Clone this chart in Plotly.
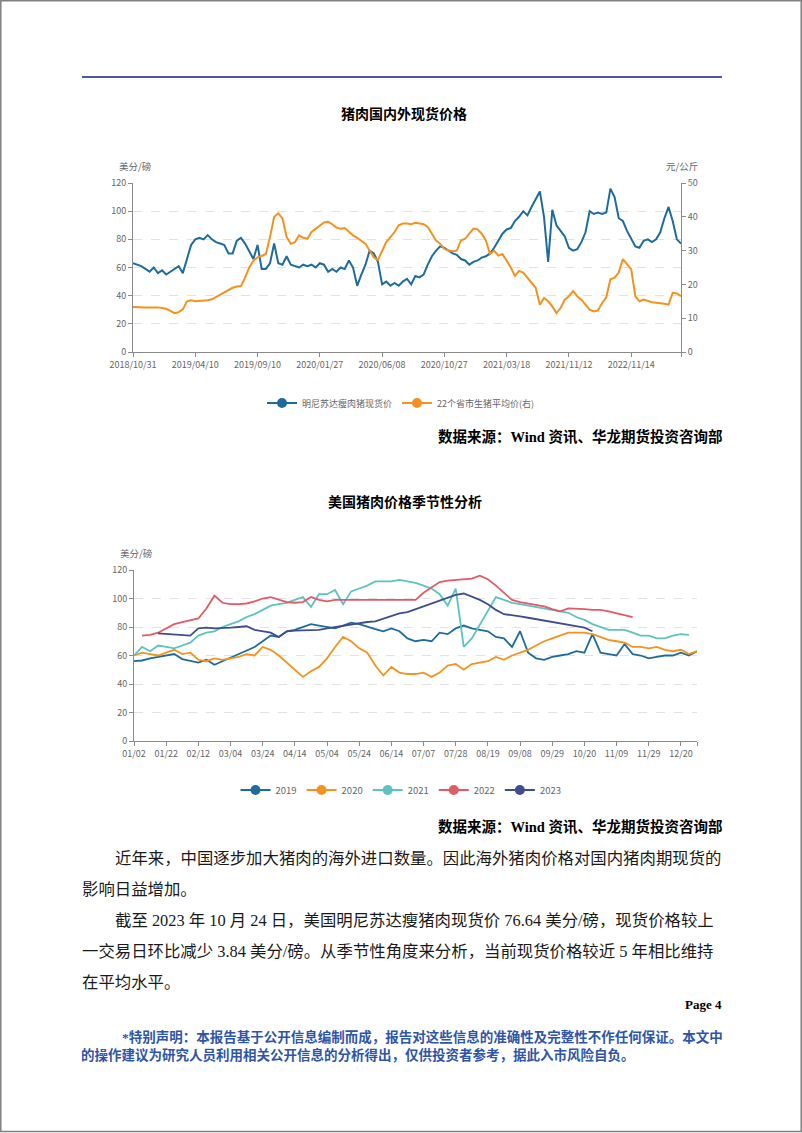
import plotly.graph_objects as go

W, H = 802, 1133


def px(x):
    return x / W


def py(y):
    return 1 - y / H


# ---------------- Chart 1 data: 猪肉国内外现货价格 ----------------
c1_ticklabels = ["2018/10/31", "2019/04/10", "2019/09/10", "2020/01/27", "2020/06/08",
                 "2020/10/27", "2021/03/18", "2021/11/12", "2022/11/14"]
c1_tick_every = 15
c1_names = ["明尼苏达瘦肉猪现货价", "22个省市生猪平均价(右)"]

minn_price = [
    63, 62, 61, 59, 57, 60, 56, 58, 55, 57,
    59, 61, 56, 66, 76, 80, 81, 80, 83, 80,
    78, 77, 76, 70, 70, 79, 81, 77, 72, 66,
    76, 59, 59, 63, 77, 63, 62, 68, 62, 61,
    60, 62, 61, 62, 60, 63, 62, 57, 59, 57,
    60, 59, 65, 60, 47, 55, 62, 72, 70, 64,
    48, 50, 47, 49, 47, 50, 52, 48, 54, 53,
    55, 62, 68, 72, 75, 74, 72, 70, 69, 66,
    65, 62, 64, 65, 67, 68, 70, 74, 79, 84,
    87, 88, 93, 96, 100, 97, 103, 108, 114, 96,
    64, 101, 90, 86, 82, 74, 72, 73, 78, 85,
    100, 98, 99, 98, 99, 116, 110, 95, 93, 86,
    80, 75, 74, 79, 80, 78, 80, 85, 95, 103,
    93, 80, 77,
]

china_price = [
    13.3, 13.2, 13.1, 13.2, 13.2, 13.3, 13.2, 13.0, 12.8, 12.2,
    11.5, 11.8, 12.6, 15.0, 15.3, 15.0, 15.1, 15.0, 15.3, 15.6,
    16.3, 16.8, 17.7, 18.2, 19.0, 19.4, 19.5, 22, 25, 27,
    28, 28.4, 29, 34, 40, 41, 39.5, 34, 32, 32.5,
    34.5, 33.8, 33.5, 35.5, 36.5, 37.5, 38.3, 38.5, 37.8, 36.8,
    36.5, 36.7, 35.5, 34.5, 33.8, 33.0, 32, 30, 28, 27.2,
    30, 32.5, 34, 35.5, 37.5, 38, 38, 37.8, 38.2, 38,
    37.8, 37, 35, 33, 32, 30.5, 30, 29.8, 30, 33,
    33.5, 35, 36.5, 36.3, 35, 33, 29, 30, 28.5, 29,
    27, 25, 22.5, 24, 23.5, 22, 20.5, 19, 14, 16,
    15, 13.5, 11.5, 13, 15.5, 16.5, 18, 16.5, 15.5, 14,
    12.5, 12, 12.3, 14.5, 16.2, 21.5, 22, 23.5, 27.5, 26,
    24.5, 16.5, 15, 15.5, 15, 14.7, 14.6, 14.5, 14.3, 14,
    17.5, 17.3, 16.5,
]

# ---------------- Chart 2 data: 美国猪肉价格季节性分析 ----------------
c2_ticklabels = ["01/02", "01/22", "02/12", "03/04", "03/24", "04/14", "05/04", "05/24", "06/14",
                 "07/07", "07/28", "08/19", "09/08", "09/29", "10/20", "11/09", "11/29", "12/20"]
c2_tick_every = 4
years = ["2019", "2020", "2021", "2022", "2023"]

s2019 = [
    56, 56.5, 58, 59, 59.5, 61, 57.5, 56, 55, 57,
    53.5, 56, 58.5, 61, 63, 66, 70, 74, 73, 77,
    78, 80, 82, 81, 80, 79, 81, 83, 82, 80,
    78.5, 77, 79, 77, 72, 70, 71, 70, 76, 75,
    79, 81, 79, 78, 77, 73, 72, 66, 77, 62,
    58, 57, 59, 60, 61, 63, 62, 75, 62, 61,
    60, 68, 61, 60, 58, 59, 60, 60, 62, 60,
    63,
]
s2020 = [
    60, 62, 61, 60, 62, 64, 61, 62, 57, 56,
    58, 57, 58, 59, 61, 60, 66, 64, 60, 55,
    50, 45, 49, 52, 58, 66, 73, 70, 65, 62,
    53, 46, 52, 48, 47, 47, 48, 45, 48, 53,
    54, 50, 54, 55, 56, 59, 57, 60, 62, 64,
    67, 70, 72, 74, 76, 76, 76, 75, 73, 71,
    70, 69, 66, 66, 65, 66, 64, 63, 64, 61,
    63,
]
s2021 = [
    60, 66, 63, 67, 66, 65, 67, 69, 74, 76,
    77, 80, 82, 84, 87, 89, 92, 95, 96, 97,
    99, 101, 94, 103, 103, 106, 96, 105, 107, 109,
    112, 112, 112, 113, 112, 111, 109, 107, 103, 95,
    107, 66, 72, 82, 92, 101, 99, 97, 96, 95,
    94, 93, 92, 91, 90, 87, 85, 82, 80, 78,
    78, 78, 76, 74, 74, 72, 72, 74, 75, 74.5,
    None,
]
s2022 = [
    None, 74, 74.5, 76, 79, 82, 83.5, 85, 86, 93,
    102, 97, 96, 96, 96.5, 98, 100, 101, 99.5, 97.5,
    97, 97.5, 101, 99, 98, 99, 99, 99, 99, 99,
    99, 99, 99, 99, 99, 99, 104, 108, 111.5, 112.5,
    113, 113.5, 114, 116, 113.5, 109, 104, 99, 97.5, 96.5,
    96, 94.5, 92.5, 91, 93, 93, 92.5, 92, 92, 91,
    89.5, 88, 87, None, None, None, None, None, None, None,
    None,
]
s2023 = [
    None, None, None, 75.5, 75, 74.5, 74, 74, 79, 79.5,
    79, 79, 79.5, 80, 80.5, 78, 77, 76, 73, 77,
    77.5, 77.5, 78, 78, 79, 80, 80.5, 82, 83, 83.5,
    84, 86, 88, 89.5, 90.5, 92.5, 94, 96.5, 98.5, 100.5,
    102.5, 103.5, 101.5, 99, 96, 92, 89, 88.5, 87.5, 86.5,
    85.5, 84.5, 84, 83, 82, 80.5, 79.5, 77, None, None,
    None, None, None, None, None, None, None, None, None, None,
    None,
]
season_series = [s2019, s2020, s2021, s2022, s2023]

# ---------------- text ----------------
body_lines = [
    "近年来，中国逐步加大猪肉的海外进口数量。因此海外猪肉价格对国内猪肉期现货的",
    "影响日益增加。",
    "截至 2023 年 10 月 24 日，美国明尼苏达瘦猪肉现货价 76.64 美分/磅，现货价格较上",
    "一交易日环比减少 3.84 美分/磅。从季节性角度来分析，当前现货价格较近 5 年相比维持",
    "在平均水平。",
]
disclaimer = [
    "*特别声明：本报告基于公开信息编制而成，报告对这些信息的准确性及完整性不作任何保证。本文中",
    "的操作建议为研究人员利用相关公开信息的分析得出，仅供投资者参考，据此入市风险自负。",
]

# ---------------- styles ----------------
BLUE = "#1e6c9c"
ORANGE = "#f4921f"
TEAL = "#5cc3c1"
RED = "#e15a66"
NAVY = "#3f4d8c"
season_colors = [BLUE, ORANGE, TEAL, RED, NAVY]
AX = "#8a8a8a"
TICKFONT = dict(family="Noto Sans CJK SC, sans-serif", size=9, color="#666")
CJK = "Noto Sans CJK SC"
SERIF = "Liberation Serif, Noto Sans CJK SC"

fig = go.Figure()

# chart 1
x1 = list(range(len(minn_price)))
fig.add_trace(go.Scatter(x=x1, y=minn_price, mode="lines", line=dict(color=BLUE, width=2),
                         xaxis="x", yaxis="y", showlegend=False, hoverinfo="skip"))
fig.add_trace(go.Scatter(x=x1, y=china_price, mode="lines", line=dict(color=ORANGE, width=2),
                         xaxis="x", yaxis="y2", showlegend=False, hoverinfo="skip"))
for name, col in zip(c1_names, [BLUE, ORANGE]):
    fig.add_trace(go.Scatter(x=[None], y=[None], mode="lines+markers", name=name,
                             line=dict(color=col, width=2), marker=dict(color=col, size=10),
                             xaxis="x", yaxis="y", legend="legend"))

# chart 2
x2 = list(range(len(s2019)))
for name, ser, col in zip(years, season_series, season_colors):
    fig.add_trace(go.Scatter(x=x2, y=ser, mode="lines", line=dict(color=col, width=1.8),
                             xaxis="x2", yaxis="y3", showlegend=False, hoverinfo="skip",
                             connectgaps=False))
for name, col in zip(years, season_colors):
    fig.add_trace(go.Scatter(x=[None], y=[None], mode="lines+markers", name=name,
                             line=dict(color=col, width=2), marker=dict(color=col, size=10),
                             xaxis="x2", yaxis="y3", legend="legend2"))

c1_tickvals = [i * c1_tick_every for i in range(len(c1_ticklabels))] + [len(minn_price) - 1]
c2_tickvals = [i * c2_tick_every for i in range(len(c2_ticklabels))] + [len(s2019) - 1]

common_x = dict(showline=True, linecolor=AX, linewidth=1, ticks="outside", ticklen=4,
                tickcolor=AX, showgrid=False, zeroline=False, tickfont=TICKFONT,
                tickmode="array", fixedrange=True, automargin=False)
common_y = dict(showline=True, linecolor=AX, linewidth=1, ticks="outside", ticklen=4,
                tickcolor=AX, zeroline=False, tickfont=TICKFONT, fixedrange=True,
                automargin=False)

fig.update_layout(
    width=W, height=H, autosize=False,
    margin=dict(l=0, r=0, t=0, b=0, pad=0, autoexpand=False),
    paper_bgcolor="white", plot_bgcolor="white",
    font=dict(family=CJK, color="#333"),
    hovermode=False,
    xaxis=dict(domain=[px(133), px(681)], range=[0, len(minn_price) - 1], anchor="y",
               tickvals=c1_tickvals, ticktext=c1_ticklabels + [""], **common_x),
    yaxis=dict(domain=[py(352), py(183)], range=[0, 120], dtick=20, anchor="x",
               showgrid=True, gridcolor="#e2e2e2", griddash="dash", **common_y),
    yaxis2=dict(overlaying="y", side="right", anchor="x", range=[0, 50], dtick=10,
                showgrid=False, **common_y),
    xaxis2=dict(domain=[px(134), px(697)], range=[0, len(s2019) - 1], anchor="y3",
                tickvals=c2_tickvals, ticktext=c2_ticklabels + [""], **common_x),
    yaxis3=dict(domain=[py(741), py(570)], range=[0, 120], dtick=20, anchor="x2",
                showgrid=True, gridcolor="#e2e2e2", griddash="dash", **common_y),
    legend=dict(orientation="h", x=0.5, xanchor="center", y=py(403), yanchor="middle",
                font=dict(family=CJK, size=9, color="#666"), itemwidth=30,
                bgcolor="rgba(0,0,0,0)", tracegroupgap=0),
    legend2=dict(orientation="h", x=0.5, xanchor="center", y=py(790), yanchor="middle",
                 font=dict(family=CJK, size=9.5, color="#666"), itemwidth=30,
                 bgcolor="rgba(0,0,0,0)"),
)

# page border and header rule
fig.add_shape(type="rect", xref="paper", yref="paper", x0=px(0.8), x1=px(801.2), y0=py(1131.5), y1=py(0.8),
              line=dict(color="#808080", width=1.5), fillcolor="rgba(0,0,0,0)", layer="above")
fig.add_shape(type="line", xref="paper", yref="paper", x0=px(82), x1=px(722), y0=py(77), y1=py(77),
              line=dict(color="#4a58a8", width=2))


def note(text, x, y, size, color="#000", family=CJK, xanchor="center", bold=False):
    fig.add_annotation(text=("<b>%s</b>" % text) if bold else text, x=px(x), y=py(y),
                       xref="paper", yref="paper", xanchor=xanchor, yanchor="middle",
                       showarrow=False, font=dict(family=family, size=size, color=color))


# titles
note("猪肉国内外现货价格", 404, 113, 14, bold=True)
note("美国猪肉价格季节性分析", 405, 501, 14, bold=True)
# axis units
note("美分/磅", 117, 166, 9.5, color="#666", xanchor="left")
note("元/公斤", 664, 166, 9.5, color="#666", xanchor="left")
note("美分/磅", 118, 553, 9.5, color="#666", xanchor="left")
# sources
note("数据来源：Wind 资讯、华龙期货投资咨询部", 725, 437, 14.5, family=SERIF, xanchor="right", bold=True)
note("数据来源：Wind 资讯、华龙期货投资咨询部", 725, 826, 14.5, family=SERIF, xanchor="right", bold=True)
# body text
body_pos = [(113, 858), (80, 889), (113, 920), (80, 951), (80, 982)]
for line, (bx, by) in zip(body_lines, body_pos):
    note(line, bx, by, 16.4, color="#1a1a1a", family=SERIF, xanchor="left")
# page number
note("Page 4", 724, 1004, 13, family=SERIF, xanchor="right", bold=True)
# disclaimer
note(disclaimer[0], 120, 1037, 13.5, color="#2f55a8", family=SERIF, xanchor="left", bold=True)
note(disclaimer[1], 79, 1055, 13.5, color="#2f55a8", family=SERIF, xanchor="left", bold=True)

fig.write_html("out.html")
